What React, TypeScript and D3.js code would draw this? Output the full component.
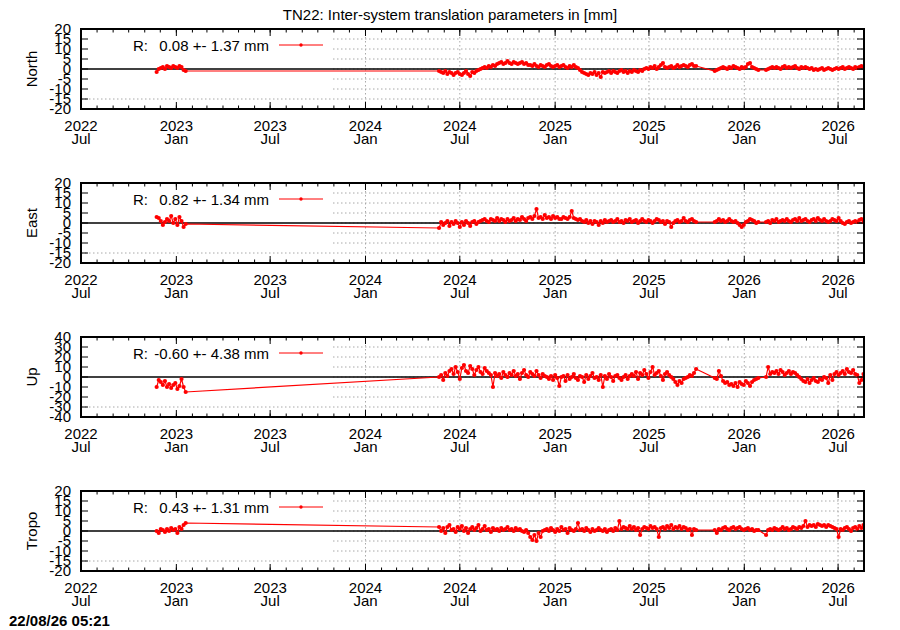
import React from "react";
import * as d3 from "d3";

const panelNames = ["North", "East", "Up", "Tropo"];
const panelLimits = [20, 20, 40, 20];
const panelSteps = [5, 5, 10, 5];
const meanMm = [0.08, 0.82, -0.6, 0.43];
const sigmaMm = [1.37, 1.34, 4.38, 1.31];

// sampling: every 4th day, four continuous stretches of data
const segmentStarts = ["2022-11-24", "2024-05-22", "2025-11-05", "2026-02-12"];
const stepDays = 4;

const xDomain = ["2022-07-01", "2026-08-20"];
const xTickDates = [
  "2022-07-01", "2023-01-01", "2023-07-01", "2024-01-01", "2024-07-01",
  "2025-01-01", "2025-07-01", "2026-01-01", "2026-07-01",
];

const northS1 = [-1.5, 0, 0.5, 1, 0, 1.5, 1, 0.5, 1.5, 1, 0.5, 1.5, 1, -0.5, -1];
const northS2 = [
  -1, -1.5, -2, -1, -2.5, -1.5, -2, -3, -2, -1.5, -2.5, -3, -2, -1, -2.5, -3.5, -1.5, -2, -1, -0.5,
  0, 0.5, 1, 0.5, 1.5, 1, 2, 1.5,
  2.5, 3, 3.5, 2.5, 3, 4, 3, 2.5, 3.5, 3, 2.5, 3, 3.5, 2.5, 3, 2,
  2, 1.5, 2.5, 1.5, 1, 2, 1.5, 1, 2, 2.5, 1.5, 1, 1.5, 2, 1, 1.5, 2, 1, 0.5, 1.5, 1, 2, 1, 0.5,
  -0.5, -1.5, -2, -2.5, -3, -2, -2.5, -1.5, -3, -2, -4, -1.5, -2,
  -1.5, -1, -2, -1, -1.5, -2, -1, -0.5, -1.5, -1, -2, -1, -1.5, -0.5, -1, -1.5, -0.5, -1, 0,
  0.5, 0, 1, 0.5, 1.5, 0, 1, 2, 3, 1, 0.5, 1, 1.5, 0.5, 1, 2, 1, 1.5, 2, 1.5, 1, 2, 2.5, 1.5, 1.5,
];
const northS3 = [-1, -0.5, 0, 0.5, 1, 0.5, 0, 1, 0.5, 1.5, 1, 0.5, 0, 1, 0.5, 1, 2.5, 3, 1, 0.5, 0, -0.5];
const northS4 = [
  -0.5, 0, 0.5, 1, 0.5, 1, 0.5, 0, 1, 1.5, 0.5, 1, 0.5, 1, 1.5, 0.5, 0, 1, 0.5, 1,
  0.5, 0, 0.5, -0.5, 0, -0.5, 0, 0.5, -0.5, 0, 0.5, 0, -0.5, 0, 0.5, 0, 0.5, 1, 0, 0.5,
  1, 0.5, 0, 1, 0.5, 1, 1.5, 1,
];

const eastS1 = [3, 2.5, 1, -1, 0.5, 2, 1, 3.5, 0, 2, -1, 3, 1, -2, -0.5];
const eastS2 = [
  -2.5, 0.5, -1, 0, 1, -1.5, 0.5, -0.5, 1, 0, -2, 0.5, -1, 1, 0, -1.5, 0.5, 1, -0.5, 0.5,
  1, 1.5, 2, 1, 0.5, 2, 1.5, 1, 2.5, 1, 2, 1.5, 0.5, 2, 1, 1.5, 2.5, 1, 2, 1.5, 3, 2, 1, 2.5,
  3, 2, 3.5, 7, 2.5, 3, 2, 4, 2.5, 3, 2, 3.5, 2.5, 3, 2, 2, 3, 2.5, 2, 3, 6, 2.5, 2, 1.5, 2,
  1, 0.5, 1.5, 0, 1, -0.5, 1, 0.5, -1, 1, 0, 1.5, 0.5,
  1, 1.5, 0.5, 1, 2, 0.5, 1, 0, 1.5, 1, 2, 0.5, 1, 1.5, 0, 1, 2, 1, 0.5, 1.5,
  1, 0, 1, 2, 1.5, 0.5, 1, -0.5, 1, 0.5, -2, 0, 1, 1.5, 0.5, 1, 2.5, 1, 0.5, 1.5, 2, 1, 0.5,
];
const eastS3 = [0.5, 1, 2, 1, 1.5, 0.5, 1, 2, 1, 0.5, 1, 0, -1, -2, -1, 0.5, 1, 2, 1.5, 1, 0, 0.5];
const eastS4 = [
  0.5, 1, 0, 1.5, 1, 2, 0.5, 1, 1.5, 1, 2, 1, 0.5, 1.5, 2, 1, 2.5, 1, 1.5, 2,
  1, 0.5, 1.5, 2, 1, 2.5, 1.5, 1, 2, 1, 0.5, 1, 2, 1.5, 1, 2.5, 1, 0, -0.5, 0.5,
  1, 0, 0.5, 1, 0.5, 1.5, 2, 0.5,
];

const upS1 = [-10, -3, -5, -8, -4, -10, -7, -11, -8, -6, -12, -9, -2, -10, -15];
const upS2 = [
  0, 2, -3, 4, 1, 6,
  8, 3, 10, 5, -2, 9, 12, 6, 4, 11, 8, 2, 7, 10, 5, 3, 9, 6, 4,
  2, -10, 4, 1, 3, -1, 5, 2, 0, 4, 2, 6, 1, 3, -2, 4, 7, 2, 0, 5, 3, 1, 6, 2, -1, 3, 1,
  0, -2, 1, -3, 2, -1, -9, 0, 1, -4, 2, -2, 0, 3, -1, -3, 1, 0, -5, 2, -2, 1, 4, -1, 0, -3, 2, -10, 1, -2, 3, 0, -4, 1, 2, -1, -3, 0, 2, -2, 1,
  3, 1, 5, -2, 4, 2, 7, 3, -1, 5, 10, 2, 4, 6, 1, -3, 3, 5, 2, 0,
  -2, -5, -8, -4, -6, -2, -1, 0, 2, 1, 4, 8,
];
const upS3 = [-1, -2, 6, 1, -4, -6, -5, -8, -7, -9, -6, -10, -5, -7, -8, -4, -6, -9, -5, -3, -2, -1];
const upS4 = [
  0, 10, 3, 5, 4, 6, 3, 7, 5, 2, 4, 6, 3, 5, 4, 2, 0, -2, -4, -5,
  -2, -6, -3, -1, -4, -5, -2, -3, 0, -1, -6, 2, -3, 3, 5, 2, 4, 6, 3, 8,
  5, 4, 7, 3, 2, -6, -3, 3,
];

const tropoS1 = [0, -1, 1, 0.5, -0.5, 1, 0, 1.5, 0.5, 1, -1, 2, 1, 3, 4];
const tropoS2 = [
  2, 0, 1.5, -1, 2, 3, 0.5, 1, -0.5, 2, 1, 2.5, 0, 1.5, -1, 1, 2, 0.5, 1.5, 3, 0, 1, 2.5, 0.5, 1, -0.5, 1.5, 0.5,
  1, 0, 1.5, 0.5, 1, 2, 0.5, 1, 0, 1.5, 0.5, 1, 0, -0.5, 0.5,
  -1, -3, -4.5, -2, -5, -1, -3, 0,
  0.5, 1, 0, 1.5, 0.5, -0.5, 1, 0, 2, 0.5, 1, -1, 1.5, 0.5, 0, 1, 4, 0.5, 1, 0, 1.5, 0.5, -0.5, 1, 0, 0.5, 1.5, 0.5, 0, 1, -0.5, 0.5, 1, 0, 1.5, 0.5,
  5, 1, 2, 1.5, 1, 2.5, 1, 2, 0.5, 1.5, -2, 1, 2, 1.5, 1, 2.5, 1.5, 2, 1, -3, 1.5, 2, 1, 2.5, 1.5, 3, 1, 2, 1.5, 2.5, 1, 2, 1.5, 0.5, 1, -2, 1, 0.5,
];
const tropoS3 = [0.5, -1, 1, 0.5, 1.5, 2, 1, 0.5, 1.5, 2, 1, 1.5, 2, 1, 0.5, 1, 1.5, 0.5, 1, 0, 0.5, 0.5];
const tropoS4 = [
  -2, 0.5, 1, 0.5, 1.5, 1, 0.5, 1, 2, 1, 1.5, 0.5, 1, 2, 1.5, 1, 2, 1.5, 2.5, 5,
  2, 3, 2.5, 3, 2, 3.5, 3, 2.5, 3, 2, 3, 2.5, 2, 1.5, 1, -3, 1, 0.5, 1.5, 2,
  1, 0, 1.5, 2, 1, 2.5, 1.5, 3,
];

const panelSeries = [
  [northS1, northS2, northS3, northS4],
  [eastS1, eastS2, eastS3, eastS4],
  [upS1, upS2, upS3, upS4],
  [tropoS1, tropoS2, tropoS3, tropoS4],
];

const W = 900;
const H = 630;
const left = 81;
const right = 864;
const panelTops = [29, 183, 337, 491];
const ph = 80;
const keyRight = 331;
const keyDepth = 65;
const FONT = "'Liberation Sans', Arial, Helvetica, sans-serif";
const RED = "#ff0000";

const x = d3.scaleUtc()
  .domain(xDomain.map(d => new Date(d)))
  .range([left, right]);
const majorTicks = xTickDates.map(d => new Date(d));
const minorTicks = d3.utcMonth.range(x.domain()[0], x.domain()[1]);
const fmtYear = d3.utcFormat("%Y");
const fmtMonth = d3.utcFormat("%b");

interface Pt { d: Date; v: number }

function Panel({ idx }: { idx: number }) {
  const top = panelTops[idx];
  const bottom = top + ph;
  const lim = panelLimits[idx];
  const y = d3.scaleLinear().domain([-lim, lim]).range([bottom, top]);
  const yTicks = d3.range(-lim, lim + 0.001, panelSteps[idx]);

  const pts: Pt[] = panelSeries[idx].flatMap((vals, s) => {
    const start = new Date(segmentStarts[s]);
    return vals.map((v, i) => ({ d: d3.utcDay.offset(start, i * stepDays), v }));
  });
  const line = d3.line<Pt>().x(p => x(p.d)).y(p => y(p.v));
  const clipId = `clip-${idx}`;

  return (
    <g>
      <defs>
        <clipPath id={clipId}>
          <rect x={left} y={top} width={right - left} height={ph} />
        </clipPath>
      </defs>
      {/* grid */}
      {yTicks.filter(t => Math.abs(t) < lim).map(t => (
        <line key={`gy${t}`} x1={left} x2={right} y1={y(t)} y2={y(t)}
          stroke="#a8a8a8" strokeWidth={1} strokeDasharray="1.5,2.5" />
      ))}
      {majorTicks.filter(t => x(t) > keyRight && x(t) < right - 1).map(t => (
        <line key={`gx${+t}`} x1={x(t)} x2={x(t)} y1={top} y2={bottom}
          stroke="#a8a8a8" strokeWidth={1} strokeDasharray="1.5,2.5" />
      ))}
      {/* key background */}
      <rect x={left + 1} y={top + 1} width={keyRight - left - 1} height={keyDepth} fill="#fff" />
      {/* zero line */}
      <line x1={left} x2={right} y1={y(0)} y2={y(0)} stroke="#000" strokeWidth={1.5} />
      {/* data */}
      <g clipPath={`url(#${clipId})`}>
        <path d={line(pts) ?? ""} fill="none" stroke={RED} strokeWidth={1.2} />
        {pts.map((p, i) => (
          <circle key={i} cx={x(p.d)} cy={y(p.v)} r={2.1} fill={RED} />
        ))}
      </g>
      {/* frame */}
      <rect x={left} y={top} width={right - left} height={ph} fill="none" stroke="#000" strokeWidth={2} />
      {/* x ticks */}
      {minorTicks.map(t => (
        <g key={`mt${+t}`}>
          <line x1={x(t)} x2={x(t)} y1={bottom} y2={bottom - 3.5} stroke="#000" />
          <line x1={x(t)} x2={x(t)} y1={top} y2={top + 3.5} stroke="#000" />
        </g>
      ))}
      {majorTicks.map(t => (
        <g key={`Mt${+t}`}>
          <line x1={x(t)} x2={x(t)} y1={bottom} y2={bottom - 7} stroke="#000" />
          <line x1={x(t)} x2={x(t)} y1={top} y2={top + 7} stroke="#000" />
          <text x={x(t)} y={bottom + 22} textAnchor="middle" fontSize={15}>{fmtYear(t)}</text>
          <text x={x(t)} y={bottom + 35} textAnchor="middle" fontSize={15}>{fmtMonth(t)}</text>
        </g>
      ))}
      {/* y ticks */}
      {yTicks.map(t => (
        <g key={`yt${t}`}>
          <line x1={left} x2={left + 7} y1={y(t)} y2={y(t)} stroke="#000" />
          <line x1={right} x2={right - 7} y1={y(t)} y2={y(t)} stroke="#000" />
          <text x={71} y={y(t) + 5} textAnchor="end" fontSize={15}>{t}</text>
        </g>
      ))}
      <text transform={`translate(37,${top + ph / 2}) rotate(-90)`} textAnchor="middle" fontSize={15}>
        {panelNames[idx]}
      </text>
      {/* key */}
      <text x={133} y={top + 21.5} fontSize={15}>R:</text>
      <text x={269} y={top + 21.5} textAnchor="end" fontSize={15}>
        {`${meanMm[idx].toFixed(2)} +- ${sigmaMm[idx].toFixed(2)} mm`}
      </text>
      <line x1={279} x2={323} y1={top + 16} y2={top + 16} stroke={RED} strokeWidth={1} />
      <circle cx={301} cy={top + 16} r={1.7} fill={RED} />
    </g>
  );
}

export default function App() {
  return (
    <svg width={W} height={H} style={{ position: "absolute", left: 0, top: 0, background: "#fff" }}
      fontFamily={FONT} fill="#000">
      <rect width={W} height={H} fill="#fff" />
      <text x={450} y={20} textAnchor="middle" fontSize={15}>
        TN22: Inter-system translation parameters in [mm]
      </text>
      {panelNames.map((_, i) => <Panel key={i} idx={i} />)}
      <text x={9} y={626} fontSize={15} fontWeight="bold">22/08/26 05:21</text>
    </svg>
  );
}
